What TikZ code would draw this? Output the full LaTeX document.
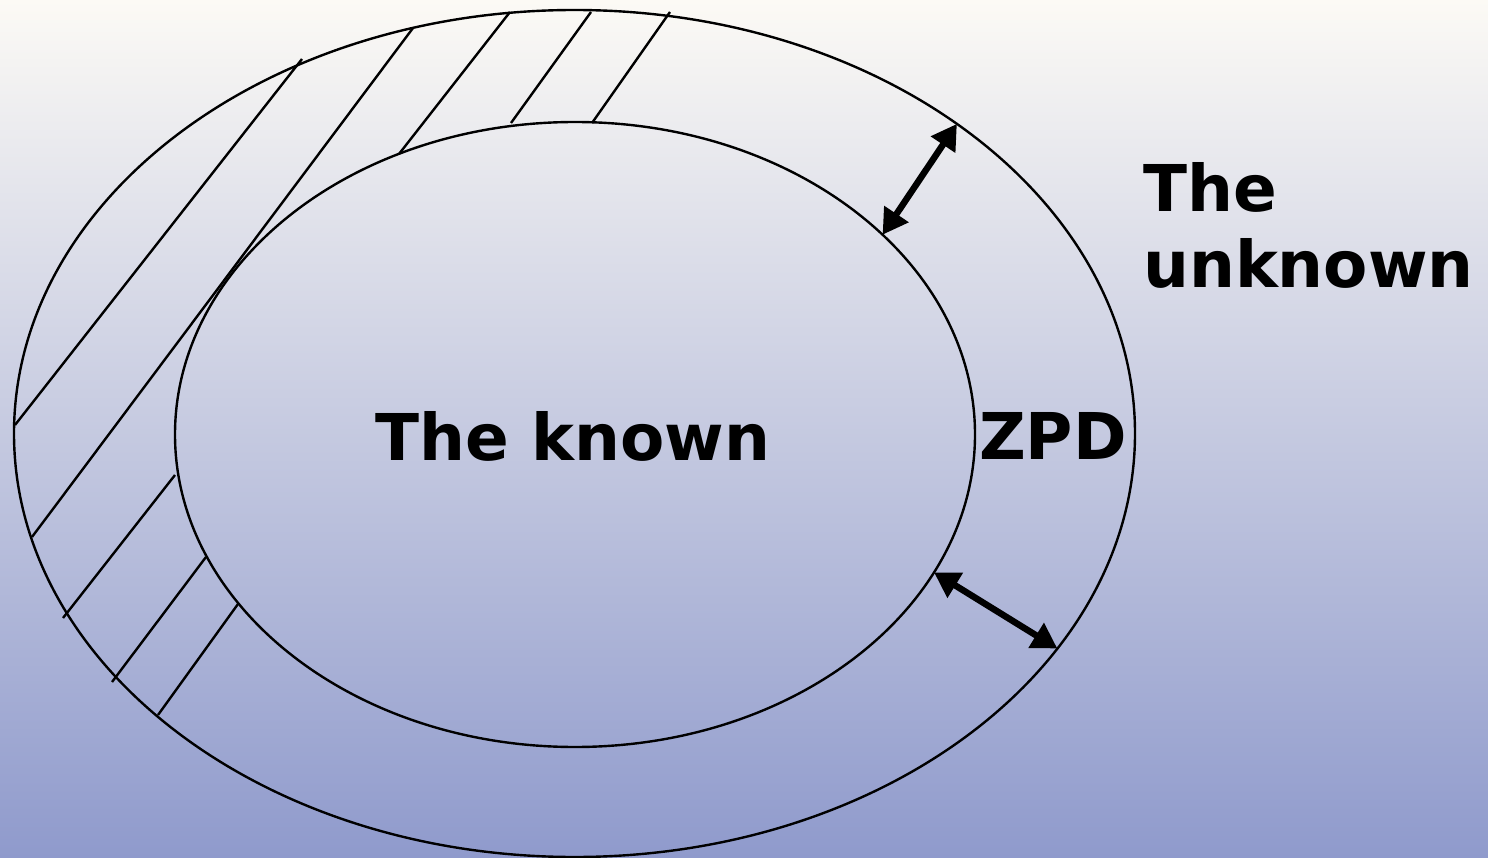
\documentclass[tikz,border=0pt]{standalone}
\usepackage{fontspec}
\setsansfont{DejaVu Sans}
\usetikzlibrary{shapes.geometric, arrows.meta, positioning}
\definecolor{bgtop}{RGB}{252,250,245}
\definecolor{bgbottom}{RGB}{143,154,204}

\begin{document}
\begin{tikzpicture}[
    x=1pt, y=-1pt,
    ring/.style={draw, ellipse, line width=2.4pt, inner sep=0pt, outer sep=0pt},
    hatch/.style={line width=2.4pt},
    gap/.style={{Triangle[length=25pt,width=28pt]}-{Triangle[length=25pt,width=28pt]}, line width=6.5pt},
    bigtext/.style={font=\sffamily\bfseries\fontsize{64.5}{76}\selectfont, inner sep=0pt}
]
    \useasboundingbox (0,0) rectangle (1488,858);
    \shade[top color=bgtop, bottom color=bgbottom] (0,0) rectangle (1488,858);

    \node[ring, minimum width=1121pt, minimum height=847pt] (outer) at (574.5,433.5) {};
    \node[ring, minimum width=800pt, minimum height=625pt] (inner) at (575,434.5) {};

    % hatching in the left part of the ring
    \foreach \xa/\ya/\xb/\yb in {302/59/15/425, 413/28/32/537, 510/12/399/154, 591/12/511/123,
                                 670/12/592/123, 175/475/63/618, 206/557/112/682, 238/604/158/715}
        \draw[hatch] (\xa,\ya) -- (\xb,\yb);

    \draw[gap] (inner.33.5) -- (outer.39);
    \draw[gap] (inner.-21.3) -- (outer.-24.3);

    \node[bigtext, anchor=base] (known) at (573,460) {The known};
    \node[bigtext, anchor=base west] (zpd) at (979,459) {ZPD};
    \node[bigtext, anchor=base west, align=left] (unknown) at (1143,288) {The\\unknown};
\end{tikzpicture}
\end{document}
